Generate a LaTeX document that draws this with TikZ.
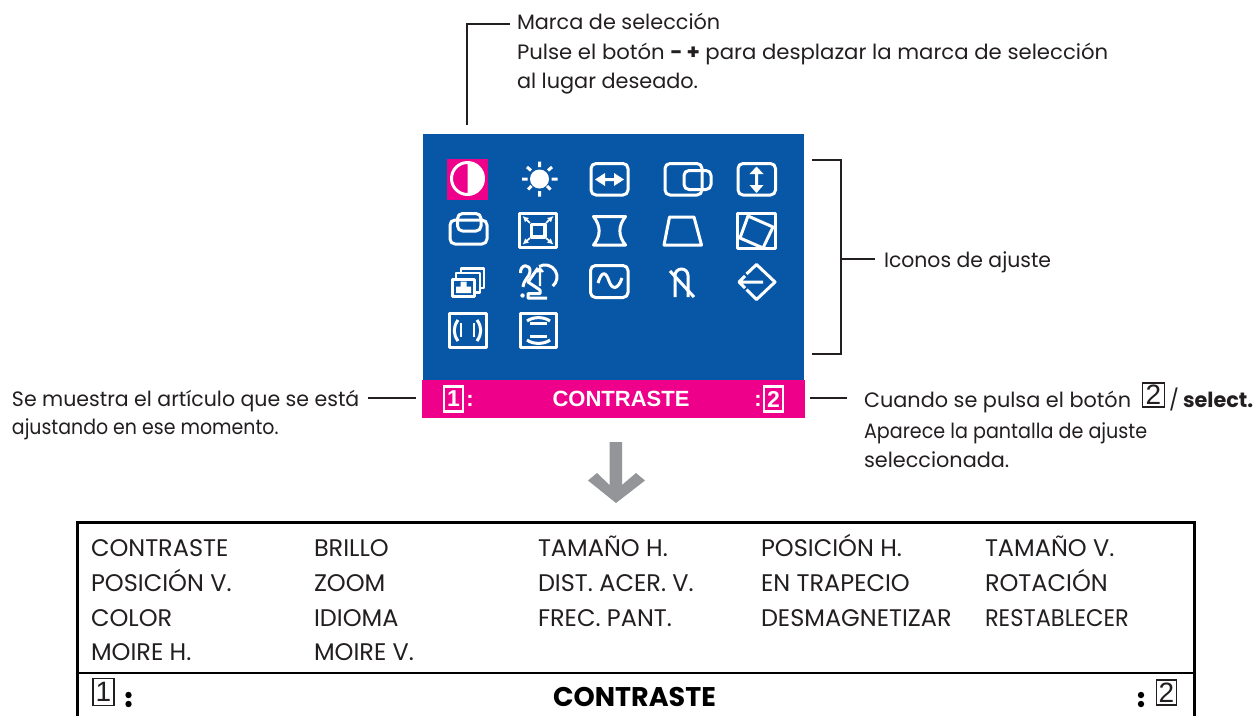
\documentclass[tikz,border=0pt]{standalone}
\usepackage{fontspec}
\setmainfont{Poppins}
\newfontfamily\barfont{Liberation Sans}
\usetikzlibrary{arrows.meta}
\definecolor{scrblue}{RGB}{8,87,166}
\definecolor{scrpink}{RGB}{238,0,138}
\definecolor{arrgray}{RGB}{147,149,152}
\definecolor{inkc}{RGB}{35,31,32}
\newcommand{\lblsize}{\fontsize{20.8}{26}\selectfont}
\newcommand{\capsize}{\fontsize{24}{26}\selectfont}
\tikzset{
  lbl/.style={anchor=base west,inner sep=0pt,outer sep=0pt,text=inkc,font=\lblsize},
  cell/.style={anchor=base west,inner sep=0pt,outer sep=0pt,text=inkc,font=\capsize},
  fitw/.style={transform shape,xscale=#1},
  lead/.style={draw=inkc,line width=2.4pt},
  icon/.style={draw=white,line width=3pt,line join=round},
  iconthin/.style={draw=white,line width=2.2pt,line join=round},
  barbox/.style={draw=white,line width=2.2pt,text=white,inner sep=0pt,font=\barfont\bfseries\fontsize{23}{23}\selectfont},
  barword/.style={text=white,inner sep=0pt,font=\barfont\bfseries\fontsize{22}{22}\selectfont},
  keybox/.style={draw=inkc,line width=1.1pt,text=inkc,inner sep=0pt,font=\barfont\fontsize{28}{28}\selectfont},
  dots/.style={fill=black,draw=none}
}
\begin{document}
\begin{tikzpicture}[x=1pt,y=-1pt]
\useasboundingbox (0,0) rectangle (1260,716);
\fill[white] (0,0) rectangle (1260,716);
% screen
\node[fill=scrblue,minimum width=381pt,minimum height=246pt,inner sep=0pt,anchor=north west] (screen) at (423,134) {};
\node[fill=scrpink,minimum width=383pt,minimum height=38pt,inner sep=0pt,anchor=north west] (bar) at (422,380) {};
% icon 1 contrast
\fill[scrpink] (447,159) rectangle (488,200);
\fill[white] (467.5,162.5) arc[start angle=-90,end angle=90,radius=16] -- cycle;
\draw[icon] (467.5,178.5) circle[radius=16];
% icon 2 sun
\fill[white] (539.5,179) circle[radius=9.5];
\draw[icon] (539.5,161.5)--(539.5,167) (539.5,191)--(539.5,196.5) (522,179)--(527.5,179) (551.5,179)--(557.5,179)
 (527,167)--(531,170.5) (552,167)--(548,170.5) (528,189.5)--(531.5,186) (550.5,189.5)--(547,186);
% icon 3 h-size
\draw[icon,rounded corners=5pt] (591,163.5) rectangle (628,195);
\fill[white] (595,179.5)--(605,173)--(605,178)--(614,178)--(614,173)--(624,179.5)--(614,186)--(614,181)--(605,181)--(605,186)--cycle;
% icon 4 h-pos
\draw[icon,rounded corners=5pt] (665,163.5) rectangle (702,195);
\draw[icon,rounded corners=5pt] (684,170.5) rectangle (711,189.5);
% icon 5 v-size
\draw[icon,rounded corners=5pt] (738,163.5) rectangle (775.5,195);
\fill[white] (756.5,166.5)--(763.5,174)--(758,174)--(758,185)--(763.5,185)--(756.5,193)--(749.5,185)--(755,185)--(755,174)--(749.5,174)--cycle;
% icon 6 v-pos
\draw[icon,rounded corners=5pt] (450,220) rectangle (487,244);
\draw[icon,rounded corners=5pt] (457.5,213.5) rectangle (481,231);
% icon 7 zoom
\draw[icon] (519.5,213) rectangle (556.5,247.5);
\draw[icon,line width=3.4pt] (531.5,224.5) rectangle (545,237);
\foreach \xa/\ya/\xb/\yb in {522.5/216/530/223,553.5/216/546/223,522.5/244.5/530/238,553.5/244.5/546/238}{
  \draw[white,line width=1.7pt,-{Latex[length=6pt,width=6pt]}] (\xb,\yb)--(\xa,\ya);
}
% icon 8 pincushion
\draw[icon] (593.5,216.5)--(625.5,216.5) .. controls (618,226) and (618,236) .. (625.5,245)--(593.5,245) .. controls (601,236) and (601,226) .. (593.5,216.5)--cycle;
% icon 9 trapezoid
\draw[icon] (669.5,217)--(694,217)--(701.5,245)--(664,245)--cycle;
% icon 10 rotation
\draw[icon] (737.5,213) rectangle (775,248);
\draw[icon] (748,216)--(773,227)--(763,248)--(740,238)--cycle;
% icon 11 colour
\draw[iconthin] (461,273)--(461,268.5)--(484,268.5)--(484,288)--(479,288);
\draw[iconthin] (456,279)--(456,273)--(480,273)--(480,292.5)--(475,292.5);
\draw[icon] (452.5,279.5) rectangle (474.5,296.5);
\fill[white] (460.5,281.5) rectangle (466.5,286.5) (456,286.5) rectangle (471,293);
% icon 12 language
\draw[icon] (520.5,273) .. controls (520,263.5) and (531,263.5) .. (530,272) .. controls (529.5,277) and (524,279) .. (523,287);
\fill[white] (522.5,295.5) circle[radius=2.2];
\draw[icon] (539,266.5) arc[start angle=-120,end angle=50,radius=12];
\draw[icon] (538,268)--(528,282)--(540,290)--(540,293.5)--(528,293.5)--(528,298)--(547,298);
\draw[iconthin] (540,270)--(540,286) (537,272)--(540,268.5)--(543,272);
% icon 13 frequency
\draw[icon,rounded corners=5pt] (590.5,265.5) rectangle (628,297.5);
\draw[icon] (598,283) .. controls (602,270) and (606,272) .. (609,281) .. controls (612,290) and (618,290) .. (622,278);
% icon 14 degauss
\draw[icon] (675,297)--(675,275.5) arc[start angle=180,end angle=360,radius=6.5]--(688,297);
\draw[icon] (670,271)--(694,297);
% icon 15 reset
\draw[icon] (746.5,289.5)--(756.5,299.5)--(775,282)--(756.5,264.5)--(746.5,274);
\draw[icon] (763,282)--(739,282) (745,276)--(739,282)--(745,288);
% icon 16 moire h
\draw[icon] (449,313) rectangle (486.5,347);
\draw[icon] (458,320) .. controls (453,327) and (453,334) .. (458,341);
\draw[icon] (477,320) .. controls (482,327) and (482,334) .. (477,341);
\draw[iconthin] (461,323)--(461,337) (474,323)--(474,337);
% icon 17 moire v
\draw[icon] (520,313) rectangle (556.5,347);
\draw[icon] (527,321) .. controls (533,316.5) and (544,316.5) .. (550,321);
\draw[icon] (527,340) .. controls (533,344.5) and (544,344.5) .. (550,340);
\draw[iconthin] (530,323.5)--(547,323.5) (530,336.5)--(547,336.5);
% bar contents
\node[barbox,minimum width=19.5pt,minimum height=25pt] (b1) at (453.5,399) {1};
\node[barword,anchor=base] (c1) at (470,406) {:};
\node[barword,anchor=base] (barword) at (621,406) {CONTRASTE};
\node[barword,anchor=base] (c2) at (758,406) {:};
\node[barbox,minimum width=19.5pt,minimum height=25pt] (b2) at (773.5,399) {2};
% arrow
\fill[arrgray] (609.5,442)--(622,442)--(622,485)--(636,473)--(645,480.5)--(616,503)--(588,480.5)--(597,473)--(609.5,485)--cycle;
% labels top
\node[lbl] (t1) at (517,29) {Marca de selección};
\node[lbl,fitw=1.02] (t2) at (517,59) {Pulse el botón \textbf{− +} para desplazar la marca de selección};
\node[lbl] (t3) at (517,88) {al lugar deseado.};
\node[lbl,fitw=.98] (ic) at (884,267) {Iconos de ajuste};
\node[lbl,fitw=.985] (l1) at (12,406) {Se muestra el artículo que se está};
\node[lbl,fitw=.91] (l2) at (12,434) {ajustando en ese momento.};
\node[lbl] (r1) at (864,407) {Cuando se pulsa el botón};
\node[keybox,minimum width=22pt,minimum height=24pt] (r2) at (1153.5,395) {2};
\node[lbl] (r3) at (1169,407) {/};
\node[lbl,font=\bfseries\lblsize] (r3b) at (1183,407) {select.};
\node[lbl,fitw=.92] (r4) at (864,438) {Aparece la pantalla de ajuste};
\node[lbl] (r5) at (864,467) {seleccionada.};
% leaders
\coordinate (a1) at (467,125);
\coordinate (a2) at (467,24);
\coordinate (a3) at (510,24);
\draw[lead] (a1)--(a2)--(a3);
\coordinate (k1) at (812,160);\coordinate (k2) at (841,160);\coordinate (k3) at (841,354);\coordinate (k4) at (812,354);\coordinate (k5) at (841,259);\coordinate (k6) at (875,259);
\draw[lead] (k1)--(k2)--(k3)--(k4);
\draw[lead] (k5)--(k6);
\coordinate (m1) at (368,398);\coordinate (m2) at (416,398);
\draw[lead] (m1)--(m2);
\coordinate (n1) at (810,398);\coordinate (n2) at (847,398);
\draw[lead] (n1)--(n2);
% table
\draw[black,line width=2.8pt] (77.5,716)--(77.5,522.5)--(1194.5,522.5)--(1194.5,716);
\draw[black,line width=2.8pt] (77.5,673)--(1194.5,673);
\foreach \tx/\ty/\tt in {91/556.5/CONTRASTE,314/556.5/BRILLO,538/556.5/TAMAÑO H.,761/556.5/POSICIÓN H.,985/556.5/TAMAÑO V.,
 91/591.5/POSICIÓN V.,314/591.5/ZOOM,538/591.5/DIST. ACER. V.,761/591.5/EN TRAPECIO,985/591.5/ROTACIÓN,
 91/626/COLOR,314/626/IDIOMA,538/626/FREC. PANT.,761/626/DESMAGNETIZAR,
 91/660.5/MOIRE H.,314/660.5/MOIRE V.}{
  \node[cell] at (\tx,\ty) {\tt};
}
\node[cell,fitw=.94] (restab) at (985,626) {RESTABLECER};
\node[keybox,minimum width=21pt,minimum height=27pt] (k1b) at (103.5,692) {1};
\fill[dots] (128.5,695) circle[radius=3.2] (128.5,704) circle[radius=3.2];
\node[cell,anchor=base,font=\bfseries\fontsize{27}{27}\selectfont,text=black] (tw) at (634.5,706.5) {CONTRASTE};
\fill[dots] (1141,695) circle[radius=3.2] (1141,704) circle[radius=3.2];
\node[keybox,minimum width=20.5pt,minimum height=25pt] (k2b) at (1166.5,692.5) {2};
\end{tikzpicture}
\end{document}
